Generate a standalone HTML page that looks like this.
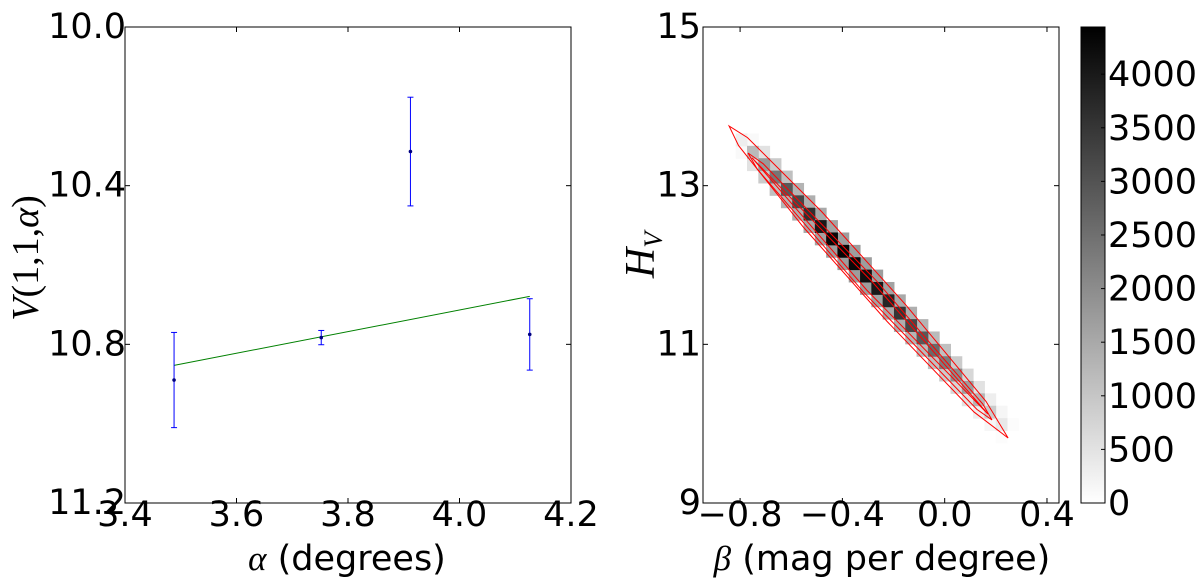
<!DOCTYPE html>
<html><head><meta charset="utf-8"><style>
body{margin:0;background:#fff;}
svg{display:block;font-family:"DejaVu Sans","Liberation Sans",sans-serif;}
</style></head><body>
<svg id="fig" width="1200" height="582" viewBox="0 0 1200 582"></svg>
<script>
// Left panel data
const alphaVals = [3.488, 3.752, 3.912, 4.126];
const magVals = [10.89, 10.783, 10.314, 10.775];
const magErrs = [0.12, 0.018, 0.137, 0.09];
const fitAlpha = [3.488, 4.126];
const fitMag = [10.853, 10.679];
const leftXTicks = [3.4, 3.6, 3.8, 4.0, 4.2];
const leftXTickLabels = ["3.4", "3.6", "3.8", "4.0", "4.2"];
const leftYTicks = [10.0, 10.4, 10.8, 11.2];
const leftYTickLabels = ["10.0", "10.4", "10.8", "11.2"];
// Right panel data: heatmap bins along the diagonal
const diagCounts = [300, 1200, 1800, 2400, 2900, 3200, 3600, 4000, 4300, 4350, 4300, 4200, 4000, 3800, 3500, 3200, 2900, 2600, 2300, 2000, 1700, 1300, 900, 400];
const offCounts = [100, 500, 900, 1100, 1300, 1400, 1500, 1600, 1700, 1700, 1700, 1700, 1600, 1500, 1400, 1300, 1200, 1100, 900, 700, 500, 300, 150, 50];
const binBeta0 = -0.795, binH0 = 13.58, binDBeta = 0.0442, binDH = 0.156;
const contourOuter = [[-0.843,13.752],[-0.771,13.606],[-0.481,12.673],[-0.152,11.497],[0.162,10.279],[0.248,9.819],[0.115,10.146],[-0.225,11.288],[-0.551,12.471],[-0.806,13.505]];
const contourMid = [[-0.769,13.412],[-0.710,13.277],[-0.267,11.801],[0.149,10.248],[0.185,10.046],[0.126,10.180],[-0.317,11.657],[-0.733,13.209]];
const contourInner = [[-0.753,13.349],[-0.279,11.773],[0.169,10.122],[-0.305,11.685]];
const rightXTicks = [-0.8, -0.4, 0.0, 0.4];
const rightXTickLabels = ["\u22120.8", "\u22120.4", "0.0", "0.4"];
const rightYTicks = [9, 11, 13, 15];
const rightYTickLabels = ["9", "11", "13", "15"];
const cbTicks = [0, 500, 1000, 1500, 2000, 2500, 3000, 3500, 4000];
const cbTickLabels = ["0", "500", "1000", "1500", "2000", "2500", "3000", "3500", "4000"];

const NS = "http://www.w3.org/2000/svg";
const svg = document.getElementById('fig');
function mk(tag, attrs, parent) {
  const e = document.createElementNS(NS, tag);
  for (const k in attrs) e.setAttribute(k, attrs[k]);
  (parent || svg).appendChild(e);
  return e;
}
const FS = 35;
const L = {x0:125, x1:571, y0:27, y1:503};
const lx = v => L.x0 + (v - 3.4) / 0.8 * (L.x1 - L.x0);
const ly = v => L.y0 + (v - 10.0) / 1.2 * (L.y1 - L.y0);
const R = {x0:703, x1:1059, y0:27, y1:503};
const bmin = -0.945, bmax = 0.447;
const rx = v => R.x0 + (v - bmin) / (bmax - bmin) * (R.x1 - R.x0);
const ry = v => R.y0 + (15 - v) / 6 * (R.y1 - R.y0);
const C = {x0:1081, x1:1105, y0:27, y1:503, max:4440};
const cy = v => C.y1 - v / C.max * (C.y1 - C.y0);
const gray = c => { const g = Math.round(255 * (1 - Math.min(c, C.max) / C.max)); return `rgb(${g},${g},${g})`; };

// ---- Left panel ----
const gl = mk('g', {});


const fit = mk('line', {x1:lx(fitAlpha[0]), y1:ly(fitMag[0]), x2:lx(fitAlpha[1]), y2:ly(fitMag[1]), stroke:'#008000', 'stroke-width':1}, gl);


alphaVals.forEach((a, i) => {
  const g = mk('g', {}, gl);
  
  
  const x = lx(a), yt = ly(magVals[i] - magErrs[i]), yb = ly(magVals[i] + magErrs[i]);
  mk('line', {x1:x, y1:yt, x2:x, y2:yb, stroke:'#0000ff', 'stroke-width':1}, g);
  mk('line', {x1:x-3, y1:yt, x2:x+3, y2:yt, stroke:'#0000ff', 'stroke-width':1}, g);
  mk('line', {x1:x-3, y1:yb, x2:x+3, y2:yb, stroke:'#0000ff', 'stroke-width':1}, g);
  mk('circle', {cx:x, cy:ly(magVals[i]), r:1.8, fill:'#000080'}, g);
});
const lframe = mk('rect', {x:L.x0, y:L.y0, width:L.x1-L.x0, height:L.y1-L.y0, fill:'none', stroke:'#000', 'stroke-width':1}, gl);


leftXTicks.forEach((t, i) => {
  const x = lx(t);
  mk('line', {x1:x, y1:L.y1, x2:x, y2:L.y1-5, stroke:'#000'}, gl);
  mk('line', {x1:x, y1:L.y0, x2:x, y2:L.y0+5, stroke:'#000'}, gl);
  const tx = mk('text', {x:x, y:526, 'font-size':FS, 'text-anchor':'middle'}, gl);
  tx.textContent = leftXTickLabels[i];
  
  
});
leftYTicks.forEach((t, i) => {
  const y = ly(t);
  mk('line', {x1:L.x0, y1:y, x2:L.x0+5, y2:y, stroke:'#000'}, gl);
  mk('line', {x1:L.x1, y1:y, x2:L.x1-5, y2:y, stroke:'#000'}, gl);
  const tx = mk('text', {x:L.x0+1, y:y+11, 'font-size':FS, 'text-anchor':'end'}, gl);
  tx.textContent = leftYTickLabels[i];
  
  
});
const lxt = mk('text', {x:347, y:570, 'font-size':FS, 'text-anchor':'middle'}, gl);
lxt.innerHTML = '<tspan font-family="Liberation Serif, serif" font-style="italic">α</tspan> (degrees)';


const lyt = mk('text', {x:0, y:0, 'font-size':38, 'text-anchor':'middle', 'font-family':'Liberation Serif, serif', transform:'translate(38,258) rotate(-90)'}, gl);
lyt.innerHTML = '<tspan font-style="italic">V</tspan>(1,1,<tspan font-style="italic">α</tspan>)';



// ---- Right panel ----
const gr = mk('g', {});


const cellW = rx(binDBeta) - rx(0), cellH = ry(0) - ry(binDH);
function cell(i, j, c) {
  const b = binBeta0 + i * binDBeta, h = binH0 - j * binDH;
  const r = mk('rect', {x:rx(b)-cellW/2, y:ry(h)-cellH/2, width:cellW+0.5, height:cellH+0.5, fill:gray(c)}, gr);
  
  
}
offCounts.forEach((c, i) => { cell(i + 1, i, c); cell(i, i + 1, c); });
diagCounts.forEach((c, i) => cell(i, i, c));
[[contourOuter,'contour-outer'],[contourMid,'contour-middle'],[contourInner,'contour-inner']].forEach(([pts, nm]) => {
  const p = mk('polygon', {points: pts.map(q => rx(q[0]) + ',' + ry(q[1])).join(' '), fill:'none', stroke:'#ff0000', 'stroke-width':1}, gr);
  
  
});
const rframe = mk('rect', {x:R.x0, y:R.y0, width:R.x1-R.x0, height:R.y1-R.y0, fill:'none', stroke:'#000', 'stroke-width':1}, gr);


rightXTicks.forEach((t, i) => {
  const x = rx(t);
  mk('line', {x1:x, y1:R.y1, x2:x, y2:R.y1-5, stroke:'#000'}, gr);
  mk('line', {x1:x, y1:R.y0, x2:x, y2:R.y0+5, stroke:'#000'}, gr);
  const tx = mk('text', {x:x, y:526, 'font-size':FS, 'text-anchor':'middle'}, gr);
  tx.textContent = rightXTickLabels[i];
  
  
});
rightYTicks.forEach((t, i) => {
  const y = ry(t);
  mk('line', {x1:R.x0, y1:y, x2:R.x0+5, y2:y, stroke:'#000'}, gr);
  mk('line', {x1:R.x1, y1:y, x2:R.x1-5, y2:y, stroke:'#000'}, gr);
  const tx = mk('text', {x:R.x0-2, y:y+11, 'font-size':FS, 'text-anchor':'end'}, gr);
  tx.textContent = rightYTickLabels[i];
  
  
});
const rxt = mk('text', {x:882, y:570, 'font-size':FS, 'text-anchor':'middle'}, gr);
rxt.innerHTML = '<tspan font-family="Liberation Serif, serif" font-style="italic">β</tspan> (mag per degree)';


const ryt = mk('text', {x:0, y:0, 'font-size':42, 'text-anchor':'middle', 'font-family':'Liberation Serif, serif', 'font-style':'italic', transform:'translate(654,255) rotate(-90)'}, gr);
ryt.innerHTML = 'H<tspan font-size="26" dy="8">V</tspan>';



// ---- Colorbar ----
const gc = mk('g', {});


const defs = mk('defs', {}, gc);
const lg = mk('linearGradient', {id:'cbg', x1:0, y1:1, x2:0, y2:0}, defs);
mk('stop', {offset:0, 'stop-color':'#fff'}, lg);
mk('stop', {offset:1, 'stop-color':'#000'}, lg);
mk('rect', {x:C.x0, y:C.y0, width:C.x1-C.x0, height:C.y1-C.y0, fill:'url(#cbg)', stroke:'#000', 'stroke-width':1}, gc);
cbTicks.forEach((t, i) => {
  const y = cy(t);
  mk('line', {x1:C.x1, y1:y, x2:C.x1-4, y2:y, stroke:'#000'}, gc);
  const tx = mk('text', {x:C.x1+3, y:y+12, 'font-size':FS}, gc);
  tx.textContent = cbTickLabels[i];
  
  
});
</script>
</body></html>
